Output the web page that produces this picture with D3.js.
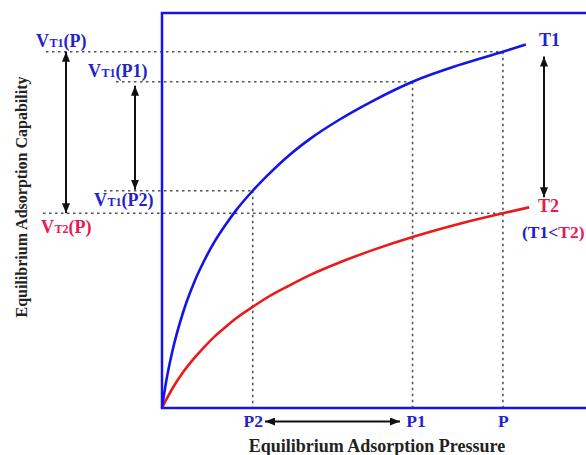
<!DOCTYPE html>
<html>
<head>
<meta charset="utf-8">
<script src="https://cdn.jsdelivr.net/npm/d3@7"></script>
<style>
  html, body { margin: 0; padding: 0; background: #fff; }
  svg { display: block; }
  text { font-family: "Liberation Serif", "Times New Roman", serif; font-weight: bold; }
</style>
</head>
<body>
<svg id="chart" width="586" height="455"></svg>
<script>
// Adsorption isotherms: equilibrium capability vs pressure at two temperatures
const pressT1 = [0, 1, 2.5, 5, 7.5, 10, 12.5, 15, 17.5, 21.4, 25, 30, 35, 42, 50, 59.1, 70, 80.4, 85.8];
const capT1   = [0, 6.8, 14.6, 24.3, 31.6, 37.4, 42.3, 46.4, 50.1, 55.0, 59.0, 64.0, 68.2, 73.1, 77.9, 82.6, 86.8, 90.2, 92.0];
const pressT2 = [0, 1, 2.5, 5, 7.5, 10, 12.5, 15, 17.5, 21.4, 25, 30, 35, 42, 50, 59.1, 70, 80.4, 86.6];
const capT2   = [0, 2.1, 5.0, 9.1, 12.5, 15.5, 18.2, 20.5, 22.7, 25.6, 28.1, 31.0, 33.7, 36.9, 40.1, 43.3, 46.6, 49.3, 50.8];

// Marked pressures and the capabilities read at them
const tickNames  = ["P2", "P1", "P"];
const tickValues = [21.4, 59.1, 80.4];
const levelT1    = [55.0, 82.6, 90.2];   // T1 curve at P2, P1, P
const levelT2P   = 49.3;                 // T2 curve at P

const BLUE = "#1414e6", RED = "#ea1a1a", LBLUE = "#2222cc", LRED = "#e8194f", DARK = "#111";

const svg = d3.select("#chart");
const x = d3.scaleLinear().domain([0, 100]).range([162, 586]);
const y = d3.scaleLinear().domain([0, 100]).range([408, 13]);

// arrowheads
const defs = svg.append("defs");
["start", "end"].forEach(k => {
  defs.append("marker")
    .attr("id", "ah-" + k)
    .attr("viewBox", "0 0 10 8")
    .attr("refX", k === "end" ? 10 : 0).attr("refY", 4)
    .attr("markerWidth", 10).attr("markerHeight", 8)
    .attr("markerUnits", "userSpaceOnUse")
    .attr("orient", "auto")
    .append("path")
    .attr("d", k === "end" ? "M0,0L10,4L0,8Z" : "M10,0L0,4L10,8Z")
    .attr("fill", DARK);
});

// dotted guides
const guides = svg.append("g").attr("stroke", "#555").attr("stroke-width", 1.6)
  .attr("stroke-dasharray", "2.5,3.5").attr("fill", "none");
const hStarts = [104, 116, 46];
tickValues.forEach((p, i) => {
  guides.append("line").attr("x1", hStarts[i]).attr("x2", x(p))
    .attr("y1", y(levelT1[i])).attr("y2", y(levelT1[i]));
  guides.append("line").attr("x1", x(p)).attr("x2", x(p))
    .attr("y1", y(levelT1[i])).attr("y2", y(0));
});
guides.append("line").attr("x1", 43).attr("x2", x(tickValues[2]))
  .attr("y1", y(levelT2P)).attr("y2", y(levelT2P));

// frame
const frame = svg.append("g").attr("stroke", BLUE).attr("stroke-width", 2.5).attr("fill", "none");
frame.append("path").attr("d", `M${x(100)},${y(100)}H${x(0)}V${y(0)}H${x(100)}`);

// isotherm curves
const line = d3.line().x(d => x(d[0])).y(d => y(d[1])).curve(d3.curveMonotoneX);
svg.append("path").datum(d3.zip(pressT2, capT2)).attr("d", line)
  .attr("fill", "none").attr("stroke", RED).attr("stroke-width", 2.6);
svg.append("path").datum(d3.zip(pressT1, capT1)).attr("d", line)
  .attr("fill", "none").attr("stroke", BLUE).attr("stroke-width", 2.6);

// x tick labels
const xAxis = d3.axisBottom(x).tickValues(tickValues)
  .tickFormat((d, i) => tickNames[i]).tickSize(0).tickPadding(6.5);
const gx = svg.append("g").attr("transform", `translate(0,${y(0)})`).call(xAxis);
gx.select(".domain").remove();
gx.selectAll("text").attr("fill", LBLUE).attr("font-size", 17.5)
  .attr("font-family", "Liberation Serif, Times New Roman, serif").attr("font-weight", "bold")
  .attr("dx", (d, i) => i === 1 ? 3 : 0);

// double arrows
function dArrow(x1, y1, x2, y2) {
  svg.append("line").attr("x1", x1).attr("y1", y1).attr("x2", x2).attr("y2", y2)
    .attr("stroke", DARK).attr("stroke-width", 2)
    .attr("marker-start", "url(#ah-start)").attr("marker-end", "url(#ah-end)");
}
dArrow(66, y(levelT1[2]), 66, y(levelT2P));
dArrow(135, y(levelT1[1]) + 4, 135, y(levelT1[0]) - 1);
dArrow(544, y(capT1[capT1.length - 1]) + 12, 544, y(capT2[capT2.length - 1]) - 10);
dArrow(265, 421.5, 400, 421.5);

// V_T labels
function vLabel(px, py, sub, arg, color) {
  const t = svg.append("text").attr("x", px).attr("y", py).attr("fill", color).attr("font-size", 18);
  t.append("tspan").text("V");
  t.append("tspan").attr("font-size", 12).attr("dx", 0.5).text(sub);
  t.append("tspan").text("(" + arg + ")");
}
vLabel(36, 47, "T1", "P", LBLUE);
vLabel(88, 77, "T1", "P1", LBLUE);
vLabel(94, 206, "T1", "P2", LBLUE);
vLabel(41, 233, "T2", "P", LRED);

// temperature labels
svg.append("text").attr("x", 539).attr("y", 46).attr("fill", LBLUE).attr("font-size", 18).text("T1");
svg.append("text").attr("x", 538).attr("y", 212).attr("fill", LRED).attr("font-size", 18).text("T2");
const cmp = svg.append("text").attr("x", 522).attr("y", 238).attr("font-size", 17.5);
cmp.append("tspan").attr("fill", LBLUE).text("(T1<");
cmp.append("tspan").attr("fill", LRED).text("T2)");

// axis titles
svg.append("text").attr("x", 377).attr("y", 452).attr("text-anchor", "middle")
  .attr("fill", "#222").attr("font-size", 18).text("Equilibrium Adsorption Pressure");
svg.append("text").attr("transform", "translate(27,197) rotate(-90)").attr("text-anchor", "middle")
  .attr("fill", "#222").attr("font-size", 16).text("Equilibrium Adsorption Capability");
</script>
</body>
</html>
